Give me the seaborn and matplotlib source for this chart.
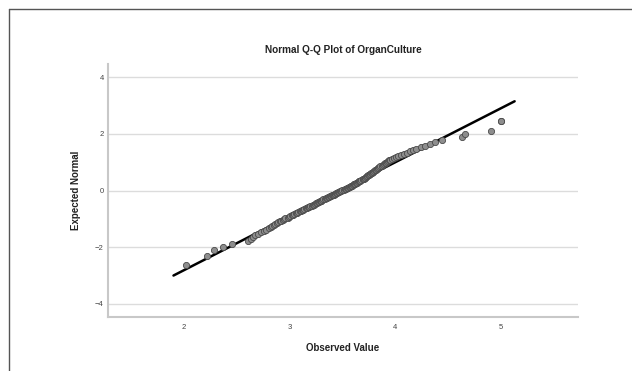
import statistics

import matplotlib
matplotlib.use("Agg")
import matplotlib.pyplot as plt
from matplotlib.lines import Line2D
import pandas as pd
import seaborn as sns

# Observed OrganCulture scores (sorted)
organ_culture = [
    2.02, 2.22, 2.28, 2.37, 2.45,
    2.61, 2.63, 2.65, 2.67, 2.70, 2.73, 2.76, 2.78, 2.80, 2.82,
    2.83, 2.85, 2.86, 2.88, 2.89,
    2.91, 2.92, 2.94, 2.95, 2.96,
    2.98, 2.99, 3.00, 3.02, 3.03,
    3.04, 3.06, 3.07, 3.08, 3.10,
    3.11, 3.12, 3.13, 3.14, 3.15,
    3.16, 3.17, 3.18, 3.19, 3.21,
    3.22, 3.23, 3.24, 3.25, 3.26,
    3.27, 3.28, 3.29, 3.30, 3.30,
    3.31, 3.32, 3.33, 3.34, 3.35,
    3.36, 3.37, 3.38, 3.39, 3.40,
    3.41, 3.42, 3.43, 3.43, 3.44,
    3.45, 3.46, 3.47, 3.48, 3.49,
    3.50, 3.51, 3.52, 3.53, 3.54,
    3.55, 3.56, 3.57, 3.58, 3.58,
    3.59, 3.60, 3.61, 3.61, 3.62,
    3.63, 3.64, 3.65, 3.66, 3.66,
    3.67, 3.68, 3.69, 3.69, 3.70,
    3.71, 3.71, 3.72, 3.73, 3.73,
    3.74, 3.75, 3.76, 3.76, 3.77,
    3.78, 3.79, 3.79, 3.80, 3.81,
    3.82, 3.83, 3.84, 3.84, 3.85,
    3.86, 3.87, 3.88, 3.89, 3.90,
    3.91, 3.92, 3.93, 3.94, 3.95,
    3.97, 3.99, 4.01, 4.03, 4.05,
    4.08, 4.11, 4.14, 4.17, 4.20,
    4.24, 4.28, 4.33, 4.38,
    4.44, 4.63, 4.66, 4.91, 5.00, 5.00,
]

x_ticks = [2, 3, 4, 5]
y_ticks = [-4, -2, 0, 2, 4]
ref_line_x = [1.90, 5.13]

# Expected normal scores (Blom proportion estimation, mean rank for ties)
obs = pd.Series(organ_culture, dtype=float)
n = len(obs)
ranks = obs.rank(method="average")
nd = statistics.NormalDist()
expected = [nd.inv_cdf((r - 0.375) / (n + 0.25)) for r in ranks]
df = pd.DataFrame({"Observed Value": obs, "Expected Normal": expected})

# Reference line: standardised observed value
mu = obs.mean()
sd = obs.std(ddof=1)
line_df = pd.DataFrame({"x": ref_line_x,
                        "y": [(v - mu) / sd for v in ref_line_x]})

sns.set_theme(style="white")
plt.rcParams["font.family"] = ["Liberation Sans", "DejaVu Sans"]

fig = plt.figure(figsize=(6.32, 3.71), dpi=100)
ax = fig.add_axes([108 / 632, 1 - 317 / 371, 470 / 632, 253 / 371])

for yv in y_ticks:
    ax.axhline(yv, color="#dcdcdc", lw=1.0, zorder=0)

sns.lineplot(data=line_df, x="x", y="y", ax=ax, color="black", lw=1.8,
             zorder=2, estimator=None, sort=False)
sns.scatterplot(data=df, x="Observed Value", y="Expected Normal", ax=ax,
                s=20, color="#8e8e8e", edgecolor="#4a4a4a", linewidth=0.6,
                zorder=3)

ax.set_xlim(1.28, 5.73)
ax.set_ylim(-4.46, 4.46)
ax.set_xticks(x_ticks)
ax.set_yticks(y_ticks)
ax.tick_params(axis="x", labelsize=5.5, colors="#444444", length=0, pad=5)
ax.tick_params(axis="y", labelsize=5.5, colors="#444444", length=0, pad=3)

for side in ("top", "right"):
    ax.spines[side].set_visible(False)
for side in ("left", "bottom"):
    ax.spines[side].set_color("#c8c8c8")
    ax.spines[side].set_linewidth(1.5)

ax.set_xlabel("Observed Value", fontsize=7, fontweight="bold",
              color="#222222", labelpad=9)
ax.set_ylabel("Expected Normal", fontsize=7, fontweight="bold",
              color="#222222", labelpad=10)
ax.set_title("Normal Q-Q Plot of OrganCulture", fontsize=7.2,
             fontweight="bold", color="#222222", pad=8)

# Outer frame along the top and left edges
fig.add_artist(Line2D([9 / 632, 1], [1 - 9 / 371, 1 - 9 / 371],
                      transform=fig.transFigure, color="#555555", lw=1.0))
fig.add_artist(Line2D([9 / 632, 9 / 632], [0, 1 - 9 / 371],
                      transform=fig.transFigure, color="#555555", lw=1.0))

fig.savefig("out.png", dpi=100)
